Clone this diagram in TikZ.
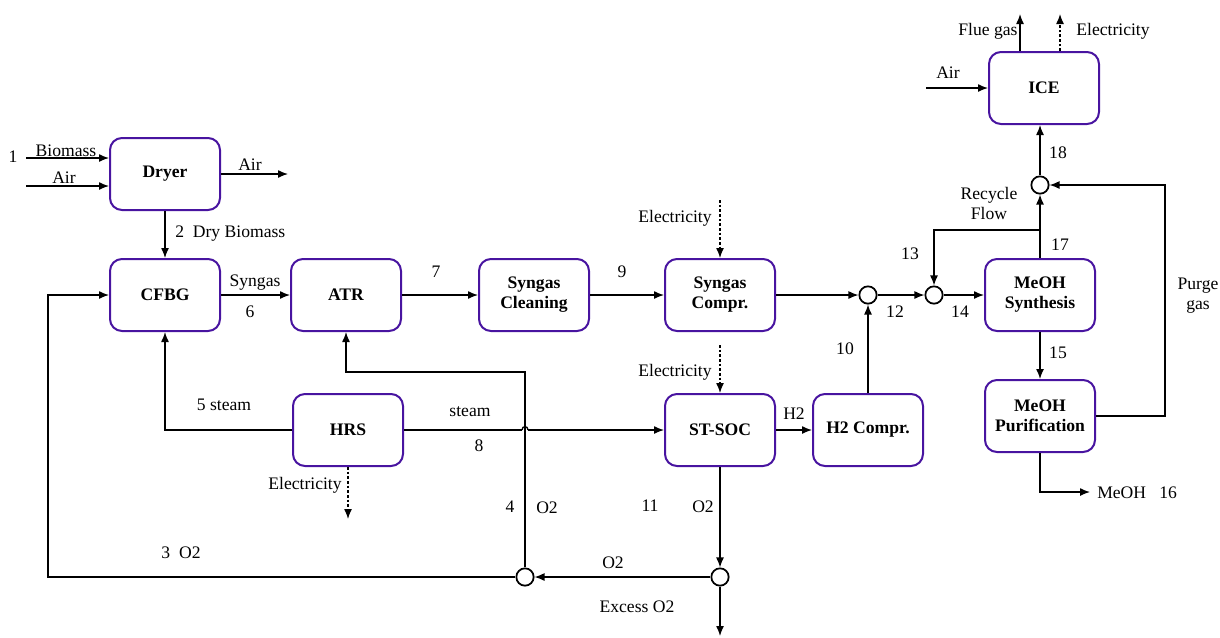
\documentclass[tikz,border=0pt]{standalone}
\usepackage{fontspec}
\setmainfont{Liberation Serif}
\usetikzlibrary{arrows.meta}
\definecolor{boxc}{RGB}{72,20,160}
\tikzset{
  unit/.style={draw=boxc,line width=1.5pt,rounded corners=9pt,minimum width=82.5pt,minimum height=54pt,align=center,font=\fontsize{13.2}{15}\selectfont\bfseries,inner sep=0pt},
  mix/.style={draw,circle,line width=1.3pt,minimum size=13pt,inner sep=0pt},
  lbl/.style={font=\fontsize{13.2}{15}\selectfont,inner sep=0pt,align=center},
  pipe/.style={line width=1pt},
  flow/.style={line width=1pt,-{Latex[length=7.5pt,width=6pt]}},
  elec/.style={line width=1pt,dash pattern=on 2pt off 1.5pt,-{Latex[length=7.5pt,width=6pt]}}
}
\begin{document}
\begin{tikzpicture}[x=0.75pt,y=-0.75pt]
\useasboundingbox (0,0) rectangle (1220,637);
% units
\node[unit] (dryer) at (165,174) {Dryer};
\node[unit] (cfbg) at (165,295) {CFBG};
\node[unit] (atr) at (346,295) {ATR};
\node[unit] (clean) at (534,295) {Syngas\\Cleaning};
\node[unit] (compr) at (720,295) {Syngas\\Compr.};
\node[unit] (synth) at (1040,295) {MeOH\\Synthesis};
\node[unit] (hrs) at (348,430) {HRS};
\node[unit] (soc) at (720,430) {ST-SOC};
\node[unit] (h2c) at (868,430) {H2 Compr.};
\node[unit] (puri) at (1040,416) {MeOH\\Purification};
\node[unit] (ice) at (1044,88) {ICE};
% mixers
\node[mix] (m12) at (868,295) {};
\node[mix] (m14) at (934,295) {};
\node[mix] (m18) at (1040,185) {};
\node[mix] (ma) at (525,577) {};
\node[mix] (mb) at (720,577) {};
% free ends
\coordinate (bioin) at (26,158);
\coordinate (airin) at (26,186);
\coordinate (airout) at (288,174);
\coordinate (e1) at (720,200);
\coordinate (e2) at (720,345);
\coordinate (e3) at (348,519);
\coordinate (exo2) at (720,636);
\coordinate (meoh) at (1090,492);
\coordinate (iceair) at (926,88);
\coordinate (flue) at (1020,14);
\coordinate (e4) at (1060,14);
\coordinate (jl) at (522,430);
\coordinate (jr) at (528,430);
% connectors
\draw[flow] (bioin) -- (bioin -| dryer.west);
\draw[flow] (airin) -- (airin -| dryer.west);
\draw[flow] (dryer.east) -- (airout);
\draw[flow] (dryer.south) -- (cfbg.north);
\draw[flow] (cfbg.east) -- (atr.west);
\draw[flow] (atr.east) -- (clean.west);
\draw[flow] (clean.east) -- (compr.west);
\draw[flow] (compr.east) -- (m12.west);
\draw[flow] (m12.east) -- (m14.west);
\draw[flow] (m14.east) -- (synth.west);
\draw[flow] (h2c.north) -- (m12.south);
\draw[flow] (soc.east) -- (h2c.west);
\draw[elec] (e1) -- (compr.north);
\draw[elec] (e2) -- (soc.north);
\draw[elec] (hrs.south) -- (e3);
\draw[pipe] (hrs.east) -- (jl);
\draw[pipe] (jl) .. controls (522,425.5) and (528,425.5) .. (jr);
\draw[flow] (jr) -- (soc.west);
\draw[flow] (hrs.west) -| (cfbg.south);
\draw[flow] (soc.south) -- (mb.north);
\draw[flow] (mb.west) -- (ma.east);
\draw[flow] (mb.south) -- (exo2);
\draw[flow] (ma.north) -- (525,372) -| (atr.south);
\draw[flow] (ma.west) -- (48,577) -- (48,295) -- (cfbg.west);
\draw[flow] (synth.south) -- (puri.north);
\draw[flow] (puri.south) |- (meoh);
\draw[flow] (puri.east) -- (1165,416) |- (m18.east);
\draw[flow] (synth.north) -- (m18.south);
\draw[flow] (1040,230) -| (m14.north);
\draw[flow] (m18.north) -- (m18.north |- ice.south);
\draw[flow] (iceair) -- (ice.west);
\draw[flow] (ice.north -| flue) -- (flue);
\draw[elec] (ice.north -| e4) -- (e4);
% labels
\node[lbl] at (13,157) {1};
\node[lbl] at (66,151) {Biomass};
\node[lbl] at (64,178) {Air};
\node[lbl] at (250,165) {Air};
\node[lbl,anchor=west] at (175,234) {2\ \ Dry Biomass};
\node[lbl] at (255,283) {Syngas};
\node[lbl] at (250,312) {6};
\node[lbl] at (436,272) {7};
\node[lbl] at (622,272) {9};
\node[lbl] at (675,218) {Electricity};
\node[lbl] at (675,372) {Electricity};
\node[lbl] at (895,312) {12};
\node[lbl] at (960,312) {14};
\node[lbl] at (910,254) {13};
\node[lbl] at (1060,245) {17};
\node[lbl] at (845,349) {10};
\node[lbl] at (794,414) {H2};
\node[lbl] at (989,203) {Recycle\\Flow};
\node[lbl] at (1058,153) {18};
\node[lbl] at (948,73) {Air};
\node[lbl] at (988,31) {Flue gas};
\node[lbl] at (1113,31) {Electricity};
\node[lbl] at (1058,353) {15};
\node[lbl] at (1198,296) {Purge\\gas};
\node[lbl,anchor=west] at (1097,493) {MeOH\ \ \ 16};
\node[lbl] at (224,405) {5 steam};
\node[lbl] at (470,412) {steam};
\node[lbl] at (479,446) {8};
\node[lbl] at (305,485) {Electricity};
\node[lbl] at (510,507) {4};
\node[lbl] at (547,508) {O2};
\node[lbl] at (650,506) {11};
\node[lbl] at (703,507) {O2};
\node[lbl] at (613,563) {O2};
\node[lbl] at (637,607) {Excess O2};
\node[lbl] at (181,553) {3\ \ O2};
\end{tikzpicture}
\end{document}
